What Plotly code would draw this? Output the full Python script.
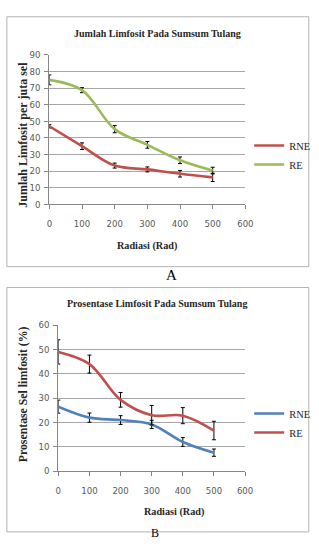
import plotly.graph_objects as go

W, H = 319, 547

# ---- data ----
radiasi = [0, 100, 200, 300, 400, 500]

# Chart A: Jumlah Limfosit (per juta sel)
a_rne = [47, 35, 23.3, 21, 18.4, 16.2]
a_rne_err = [1, 2, 1.5, 1.5, 2, 2.5]
a_re = [75, 68.8, 45.3, 35.8, 26.5, 20.3]
a_re_err = [3, 1.5, 2.2, 2, 2, 2]

# Chart B: Prosentase Sel Limfosit (%)
b_rne = [26.5, 22, 21, 19.2, 12, 7.6]
b_rne_err = [2.7, 1.9, 1.8, 1.7, 1.8, 1.5]
b_re = [49, 44, 29.3, 23, 22.8, 16.7]
b_re_err = [5, 3.7, 3, 4, 3.3, 3.8]

x_ticks = [0, 100, 200, 300, 400, 500, 600]
a_yticks = [0, 10, 20, 30, 40, 50, 60, 70, 80, 90]
b_yticks = [0, 10, 20, 30, 40, 50, 60]

RED = "#C0504D"
GREEN = "#9BBB59"
BLUE = "#4F81BD"
SERIF = "Liberation Serif, Times New Roman, serif"
NARROW = "Liberation Sans Narrow, DejaVu Sans Condensed, Arial Narrow, sans-serif"

def px(xp):
    return xp / W

def py(yp):
    return 1 - yp / H

fig = go.Figure()

def add(x, y, err, color, name, xa, ya, legend):
    fig.add_trace(go.Scatter(
        x=x, y=y, name=name, mode="lines",
        line=dict(color=color, width=2.6, shape="spline", smoothing=1.0),
        error_y=dict(type="data", array=err, visible=True, color="#000000",
                     thickness=1, width=2),
        xaxis=xa, yaxis=ya, legend=legend,
    ))

add(radiasi, a_rne, a_rne_err, RED, "RNE", "x", "y", "legend")
add(radiasi, a_re, a_re_err, GREEN, "RE", "x", "y", "legend")
add(radiasi, b_rne, b_rne_err, BLUE, "RNE", "x2", "y2", "legend2")
add(radiasi, b_re, b_re_err, RED, "RE", "x2", "y2", "legend2")

tickfont = dict(family=NARROW, size=9.5, color="#595959")
axcommon = dict(showline=True, linecolor="#868686", linewidth=1,
                ticks="outside", ticklen=4, tickcolor="#868686",
                tickfont=tickfont, zeroline=False)

fig.update_layout(
    width=W, height=H,
    margin=dict(l=0, r=0, t=0, b=0),
    paper_bgcolor="white", plot_bgcolor="white",
    showlegend=True,
    xaxis=dict(domain=[px(48), px(251)], range=[0, 600], tickvals=x_ticks,
               showgrid=False, anchor="y", ticklabelstandoff=6, **axcommon),
    yaxis=dict(domain=[py(202.3), py(50)], range=[0, 90], tickvals=a_yticks,
               showgrid=True, gridcolor="#a6a6a6", gridwidth=1, anchor="x",
               ticklabelstandoff=2, **axcommon),
    xaxis2=dict(domain=[px(57.3), px(250.7)], range=[0, 600], tickvals=x_ticks,
                showgrid=False, anchor="y2", ticklabelstandoff=6, **axcommon),
    yaxis2=dict(domain=[py(474.7), py(325.7)], range=[0, 60], tickvals=b_yticks,
                showgrid=True, gridcolor="#a6a6a6", gridwidth=1, anchor="x2",
                ticklabelstandoff=2, **axcommon),
    legend=dict(x=px(255), y=py(152), xanchor="left", yanchor="middle",
                font=dict(family=SERIF, size=10.5, color="#262626"),
                bgcolor="rgba(0,0,0,0)", itemwidth=30, tracegroupgap=0),
    legend2=dict(x=px(255), y=py(425.5), xanchor="left", yanchor="middle",
                 font=dict(family=SERIF, size=10.5, color="#262626"),
                 bgcolor="rgba(0,0,0,0)", itemwidth=30, tracegroupgap=0),
)

# chart borders
for (y0, y1) in [(11, 266), (287.3, 536.7)]:
    fig.add_shape(type="rect", xref="paper", yref="paper",
                  x0=px(4), x1=px(316.7), y0=py(y1), y1=py(y0),
                  line=dict(color="#b3b3b3", width=1), fillcolor="rgba(0,0,0,0)",
                  layer="below")

def ann(text, x, y, size, bold=True, angle=0, family=SERIF, color="#262626",
        yanchor="middle"):
    fig.add_annotation(text=("<b>%s</b>" % text) if bold else text,
                       x=px(x), y=py(y), xref="paper", yref="paper",
                       showarrow=False, textangle=angle, xanchor="center",
                       yanchor=yanchor,
                       font=dict(family=family, size=size, color=color))

# Chart A texts
ann("Jumlah Limfosit Pada Sumsum Tulang", 160, 28, 10)
ann("Jumlah Limfosit per juta sel", 21, 131, 12, angle=-90)
ann("Radiasi (Rad)", 149.5, 245, 10.2)
ann("A", 175, 275, 15, bold=False, color="#000000")

# Chart B texts
ann("Prosentase Limfosit Pada Sumsum Tulang", 160, 304, 10)
ann("Prosentase Sel limfosit (%)", 21, 396, 11.8, angle=-90)
ann("Radiasi (Rad)", 177, 516, 10.2)
ann("B", 157, 547, 12, bold=False, color="#000000", yanchor="bottom")

fig.write_html("out.html")
